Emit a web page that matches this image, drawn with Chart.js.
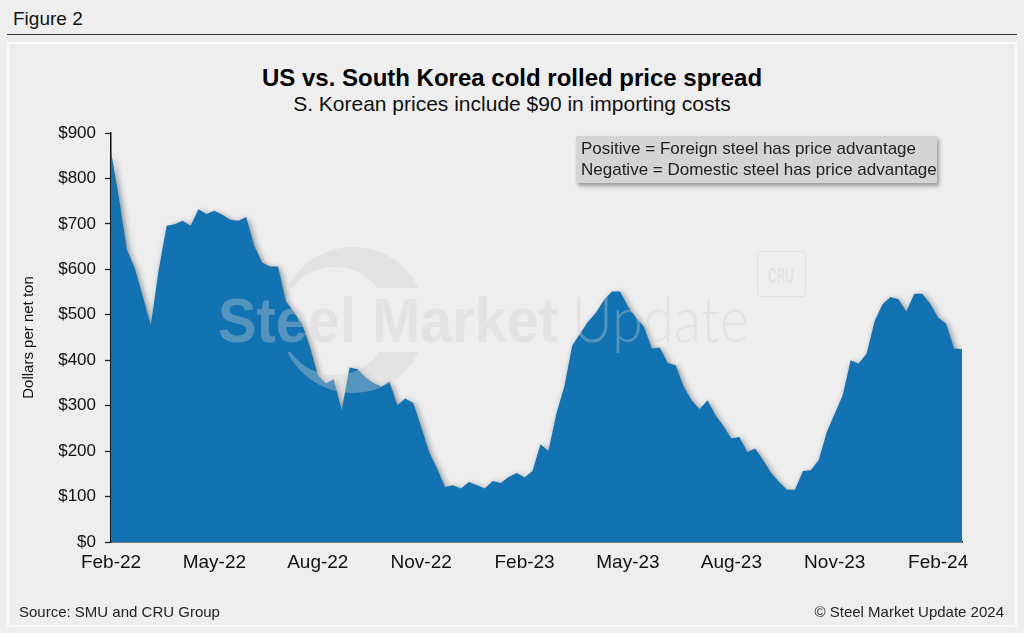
<!DOCTYPE html>
<html>
<head>
<meta charset="utf-8">
<script src="https://cdn.jsdelivr.net/npm/chart.js@4.4.1/dist/chart.umd.min.js"></script>
<style>
    body {
        margin: 0;
        width: 1024px;
        height: 633px;
        position: relative;
        overflow: hidden;
        background: #eeeeee;
        font-family: "Liberation Sans", Arial, sans-serif;
        color: #111;
    }
    .fig-label { position: absolute; left: 13px; top: 8px; font-size: 19px; line-height: 22px; }
    .rule { position: absolute; left: 7px; top: 34px; width: 1010px; height: 1px; background: #333; }
    .panel { position: absolute; left: 7px; top: 42px; width: 1010px; height: 585px; box-sizing: border-box; border: 2px solid #f9f9f9; }
    .title { position: absolute; left: 0; width: 1024px; top: 64px; text-align: center; font-size: 24px; line-height: 28px; font-weight: bold; color: #000; }
    .subtitle { position: absolute; left: 0; width: 1024px; top: 92px; text-align: center; font-size: 21px; line-height: 24px; color: #111; }
    .note { position: absolute; left: 576px; top: 136px; width: 361px; height: 47px; box-sizing: border-box; padding: 2px 0 0 5px; background: #d4d4d4; box-shadow: 2px 3px 4px rgba(0,0,0,0.35); font-size: 17px; line-height: 21px; color: #222; white-space: nowrap; }
    .source { position: absolute; left: 19px; top: 603px; font-size: 15px; line-height: 18px; color: #222; }
    .copy { position: absolute; right: 20px; top: 603px; font-size: 15px; line-height: 18px; color: #222; }
    canvas { position: absolute; left: 0; top: 0; }
</style>
</head>
<body>
<div class="fig-label">Figure 2</div>
<div class="rule"></div>
<div class="panel"></div>
<div class="title">US vs. South Korea cold rolled price spread</div>
<div class="subtitle">S. Korean prices include $90 in importing costs</div>
<canvas id="chart" width="1024" height="633"></canvas>
<div class="note">Positive = Foreign steel has price advantage<br>Negative = Domestic steel has price advantage</div>
<div class="source">Source: SMU and CRU Group</div>
<div class="copy">© Steel Market Update 2024</div>

<script>
// weekly spread, $ per net ton
var spread = [
    860, 757, 643, 602, 540, 477, 599, 696, 699, 707,
    696, 732, 722, 729, 720, 709, 707, 715, 652, 615,
    606, 606, 529, 506, 481, 430, 367, 349, 358, 290,
    384, 380, 362, 350, 342, 353, 301, 316, 306, 253,
    198, 162, 121, 125, 118, 132, 125, 118, 134, 130,
    143, 152, 142, 156, 215, 200, 283, 342, 433, 459,
    485, 505, 533, 551, 551, 518, 494, 474, 426, 428,
    394, 389, 342, 312, 292, 312, 279, 255, 228, 231,
    198, 206, 180, 152, 132, 115, 115, 156, 158, 181,
    242, 283, 323, 400, 393, 414, 485, 523, 539, 534,
    507, 546, 546, 524, 494, 480, 426, 424
];

var tickLabels = ["Feb-22", "May-22", "Aug-22", "Nov-22", "Feb-23", "May-23", "Aug-23", "Nov-23", "Feb-24"];
var weeksPerTick = 13;

// one category per week, starting early Feb 2022
var weeks = [];
var d = new Date(Date.UTC(2022, 1, 4));
for (var i = 0; i < spread.length; i++) {
    weeks.push(d.toISOString().slice(0, 10));
    d.setUTCDate(d.getUTCDate() + 7);
}

var fontFamily = '"Liberation Sans", Arial, sans-serif';

// soft drop shadow under the filled area
var areaShadow = {
    id: 'areaShadow',
    beforeDatasetsDraw: function (chart) {
        var ctx = chart.ctx;
        ctx.save();
        ctx.shadowColor = 'rgba(0,0,0,0.45)';
        ctx.shadowBlur = 6;
        ctx.shadowOffsetX = 2;
        ctx.shadowOffsetY = 2;
    },
    afterDatasetsDraw: function (chart) {
        chart.ctx.restore();
    }
};

// faint publisher watermark drawn over the area
var watermark = {
    id: 'watermark',
    afterDatasetsDraw: function (chart) {
        var ctx = chart.ctx;
        ctx.save();
        ctx.fillStyle = 'rgba(207,207,207,0.36)';

        // crescent logo, cut by the text band
        ctx.save();
        ctx.beginPath();
        ctx.rect(0, 0, 1024, 288);
        ctx.rect(0, 352, 1024, 281);
        ctx.clip();
        ctx.beginPath();
        ctx.arc(353, 320, 73, 0, Math.PI * 2);
        ctx.arc(335, 321, 54, 0, Math.PI * 2, true);
        ctx.fill();
        ctx.restore();

        ctx.textBaseline = 'alphabetic';
        ctx.textAlign = 'left';
        ctx.font = 'bold 63px ' + fontFamily;
        ctx.fillText('Steel Market', 218, 342, 340);
        ctx.font = '300 63px Lato, ' + fontFamily;
        ctx.fillText('Update', 572, 342, 177);

        ctx.strokeStyle = 'rgba(200,200,200,0.35)';
        ctx.lineWidth = 1;
        ctx.beginPath();
        ctx.roundRect(757.5, 251.5, 48, 45, 3);
        ctx.stroke();
        ctx.font = 'bold 22px ' + fontFamily;
        ctx.textAlign = 'center';
        ctx.fillText('CRU', 781, 283, 26);
        ctx.restore();
    }
};

var chart = new Chart(document.getElementById('chart').getContext('2d'), {
    type: 'line',
    data: {
        labels: weeks,
        datasets: [{
            label: 'Spread',
            data: spread,
            fill: 'origin',
            backgroundColor: '#1173b2',
            borderWidth: 0,
            pointRadius: 0,
            tension: 0
        }]
    },
    options: {
        responsive: false,
        animation: false,
        layout: {
            padding: { top: 133, left: 20, right: 62, bottom: 0 }
        },
        plugins: {
            legend: { display: false },
            tooltip: { enabled: false }
        },
        scales: {
            x: {
                z: 1,
                grid: { display: false, drawTicks: false },
                border: { display: true, color: '#111', width: 1.5 },
                ticks: {
                    autoSkip: false,
                    maxRotation: 0,
                    padding: 9,
                    color: '#111',
                    font: { family: fontFamily, size: 19 },
                    callback: function (val, idx) {
                        return idx % weeksPerTick === 0 ? tickLabels[idx / weeksPerTick] : '';
                    }
                },
                afterFit: function (scale) { scale.height = 91; }
            },
            y: {
                z: 1,
                min: 0,
                max: 900,
                grid: {
                    drawOnChartArea: false,
                    drawTicks: true,
                    tickLength: 6,
                    tickColor: '#222',
                    tickWidth: 1.3
                },
                border: { display: true, color: '#111', width: 1.5 },
                ticks: {
                    stepSize: 100,
                    padding: 9,
                    color: '#111',
                    font: { family: fontFamily, size: 17 },
                    callback: function (v) { return '$' + v; }
                },
                title: {
                    display: true,
                    text: 'Dollars per net ton',
                    color: '#111',
                    padding: 0,
                    font: { family: fontFamily, size: 15 }
                },
                afterFit: function (scale) { scale.width = 91; }
            }
        }
    },
    plugins: [areaShadow, watermark]
});
</script>
</body>
</html>
